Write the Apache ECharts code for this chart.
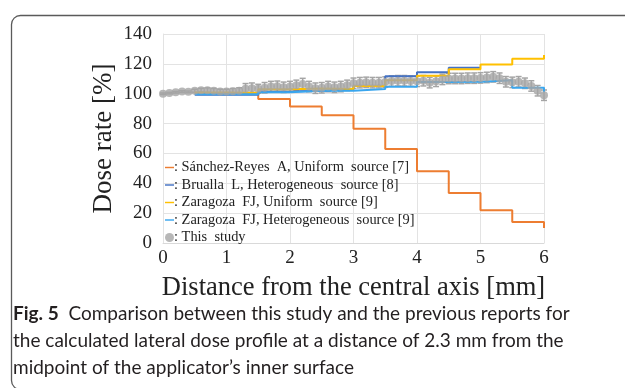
<!DOCTYPE html>
<html>
<head>
<meta charset="utf-8">
<script src="https://cdn.jsdelivr.net/npm/echarts@6/dist/echarts.min.js"></script>
<style>
  html, body { margin: 0; padding: 0; background: #fff; }
  #chart { width: 625px; height: 388px; }
</style>
</head>
<body>
<div id="chart"></div>
<script>
// step start positions [mm], each value holds until the next one
const stepX = [0.5, 1, 1.5, 2, 2.5, 3, 3.5, 4, 4.5, 5, 5.5];

const sanchezReyes = [100, 100, 96.5, 91.5, 85.5, 76.5, 63, 48, 33.5, 22, 14];
const sanchezEnd = [14, 10];
const brualla = [99.3, 99.3, 101.5, 102, 103, 105.3, 111.7, 114.4, 117.4];
const bruallaEnd = [117.4];
const zaragozaUniform = [100.8, 100.6, 103, 103.5, 103.2, 105.2, 109, 112, 116.4, 119.6, 123.5];
const zaragozaUniformEnd = [123.5, 126];
const zaragozaHetero = [99.6, 99.6, 101, 102, 102, 103.2, 104.6, 107.8, 108, 109, 104];
const zaragozaHeteroEnd = [104, 101];

// this study, every 0.1 mm
const studyX = [0, 0.1, 0.2, 0.3, 0.4, 0.5, 0.6, 0.7, 0.8, 0.9,
  1, 1.1, 1.2, 1.3, 1.4, 1.5, 1.6, 1.7, 1.8, 1.9,
  2, 2.1, 2.2, 2.3, 2.4, 2.5, 2.6, 2.7, 2.8, 2.9,
  3, 3.1, 3.2, 3.3, 3.4, 3.5, 3.6, 3.7, 3.8, 3.9,
  4, 4.1, 4.2, 4.3, 4.4, 4.5, 4.6, 4.7, 4.8, 4.9,
  5, 5.1, 5.2, 5.3, 5.4, 5.5, 5.6, 5.7, 5.8, 5.9, 6];
const studyY = [100, 100.4, 101, 101.5, 101.3, 102, 102.4, 102.4, 102, 101.5,
  101.5, 101.7, 102, 103.3, 103.7, 103.3, 104, 104.8, 105, 104.3,
  104.8, 105.6, 106.5, 104.8, 103.7, 104, 104.8, 104.3, 104.8, 105.6,
  107, 107.4, 107.6, 107.4, 107.4, 107.8, 108.5, 108.7, 108.7, 108.5,
  108.3, 108.7, 107.4, 108.3, 109.6, 110.2, 110.2, 110.2, 110.4, 110.4,
  110.6, 110.9, 111.3, 110.4, 108, 107.6, 108, 107, 105.2, 102, 99];
const studyErr = [0.5, 0.5, 0.5, 0.5, 0.5, 1, 1.2, 1.5, 1.5, 1.5,
  1.5, 1.8, 2, 3.5, 3.5, 3, 3.5, 3.5, 3.5, 3.5,
  3.5, 3.5, 3.8, 3.5, 3.5, 3.5, 3.5, 3.5, 3.5, 3.5,
  3.5, 3.5, 3.5, 3.5, 3.5, 3.5, 3.5, 3.5, 3.5, 3.5,
  3.5, 3.5, 3.5, 3.5, 3.5, 3.5, 3.5, 3.5, 3.5, 3.5,
  3.5, 3.5, 3.5, 3.5, 3.5, 3.5, 3.5, 3.5, 3.5, 3.5, 3.5];

const xTicks = [0, 1, 2, 3, 4, 5, 6];
const yTicks = [0, 20, 40, 60, 80, 100, 120, 140];

const names = [
  'Sánchez-Reyes  A, Uniform  source [7]',
  'Brualla  L, Heterogeneous  source [8]',
  'Zaragoza  FJ, Uniform  source [9]',
  'Zaragoza  FJ, Heterogeneous  source [9]',
  'This  study'
];

const serif = '"Liberation Serif", "Times New Roman", serif';
// short dash centred in the legend box
const dashIcon = 'path://M0,0M0,4.2h10v1.6h-10zM10,10';

function steps(vals, ends, endX) {
  const d = vals.map((v, i) => [stepX[i], v]);
  ends.forEach(v => d.push([endX, v]));
  return d;
}

const chart = echarts.init(document.getElementById('chart'));

chart.setOption({
  animation: false,
  backgroundColor: '#fff',
  grid: { left: 163, right: 81, top: 34, bottom: 145 },
  legend: {
    orient: 'vertical',
    left: 165,
    top: 160,
    padding: 0,
    itemWidth: 9,
    itemHeight: 10,
    itemGap: 2.5,
    data: [
      { name: names[0], icon: dashIcon },
      { name: names[1], icon: dashIcon },
      { name: names[2], icon: dashIcon },
      { name: names[3], icon: dashIcon },
      { name: names[4], icon: 'circle' }
    ],
    formatter: n => ': ' + n,
    textStyle: { fontFamily: serif, fontSize: 14.4, lineHeight: 15, color: '#222', padding: [0, 0, 0, -5] }
  },
  xAxis: {
    type: 'value',
    min: 0,
    max: 6,
    interval: 1,
    name: 'Distance from the central axis [mm]',
    nameLocation: 'middle',
    nameGap: 32,
    nameMoveOverlap: false,
    nameTextStyle: { fontFamily: serif, fontSize: 26.5, color: '#222' },
    axisLine: { lineStyle: { color: '#d9d9d9' } },
    axisTick: { show: false },
    axisLabel: {
      fontFamily: serif, fontSize: 19, color: '#222', margin: 6,
      formatter: v => xTicks.includes(v) ? String(v) : ''
    },
    splitLine: { lineStyle: { color: '#e3e3e3' } }
  },
  yAxis: {
    type: 'value',
    min: 0,
    max: 140,
    interval: 20,
    name: 'Dose rate [%]',
    nameLocation: 'middle',
    nameGap: 46,
    nameMoveOverlap: false,
    nameTextStyle: { fontFamily: serif, fontSize: 27, color: '#222' },
    axisLine: { show: true, lineStyle: { color: '#e3e3e3' } },
    axisTick: { show: false },
    axisLabel: {
      fontFamily: serif, fontSize: 19, color: '#222', margin: 11,
      formatter: v => yTicks.includes(v) ? String(v) : ''
    },
    splitLine: { lineStyle: { color: '#e3e3e3' } }
  },
  series: [
    {
      name: names[0], type: 'line', step: 'end', symbol: 'none',
      color: '#ed7d31', lineStyle: { width: 2 },
      data: steps(sanchezReyes, sanchezEnd, 6)
    },
    {
      name: names[1], type: 'line', step: 'end', symbol: 'none',
      color: '#4472c4', lineStyle: { width: 2 },
      data: steps(brualla, bruallaEnd, 5)
    },
    {
      name: names[2], type: 'line', step: 'end', symbol: 'none',
      color: '#ffc000', lineStyle: { width: 2 },
      data: steps(zaragozaUniform, zaragozaUniformEnd, 6)
    },
    {
      name: names[3], type: 'line', step: 'end', symbol: 'none',
      color: '#3aa6ee', lineStyle: { width: 2 },
      data: steps(zaragozaHetero, zaragozaHeteroEnd, 6)
    },
    {
      // error bars
      type: 'custom',
      data: studyX.map((x, i) => [x, studyY[i] - studyErr[i], studyY[i] + studyErr[i]]),
      renderItem: (params, api) => {
        const top = api.coord([api.value(0), api.value(2)]);
        const bot = api.coord([api.value(0), api.value(1)]);
        const w = 3;
        const style = { stroke: '#a5a5a5', lineWidth: 1.5 };
        return {
          type: 'group',
          children: [
            { type: 'line', shape: { x1: top[0], y1: top[1], x2: bot[0], y2: bot[1] }, style },
            { type: 'line', shape: { x1: top[0] - w, y1: top[1], x2: top[0] + w, y2: top[1] }, style },
            { type: 'line', shape: { x1: bot[0] - w, y1: bot[1], x2: bot[0] + w, y2: bot[1] }, style }
          ]
        };
      },
      z: 3
    },
    {
      name: names[4], type: 'scatter', symbol: 'circle', symbolSize: 8,
      color: '#a5a5a5',
      data: studyX.map((x, i) => [x, studyY[i]]),
      z: 4
    }
  ],
  graphic: [
    {
      type: 'rect', left: 9, top: 13, silent: true,
      shape: { width: 700, height: 374, r: 9 },
      style: { fill: 'none', stroke: '#5a5a5a', lineWidth: 1.3 }
    },
    {
      type: 'text', left: 13, top: 300, silent: true,
      style: {
        text: '{b|Fig. 5}  Comparison between this study and the previous reports for\nthe calculated lateral dose profile at a distance of 2.3 mm from the\nmidpoint of the applicator’s inner surface',
        fontFamily: 'Lato, "Noto Sans", sans-serif',
        fontSize: 19,
        lineHeight: 27,
        fill: '#231f20',
        rich: {
          b: { fontFamily: 'Lato, "Noto Sans", sans-serif', fontSize: 19, fontWeight: 'bold', fill: '#231f20', lineHeight: 27 }
        }
      }
    }
  ]
});
</script>
</body>
</html>
